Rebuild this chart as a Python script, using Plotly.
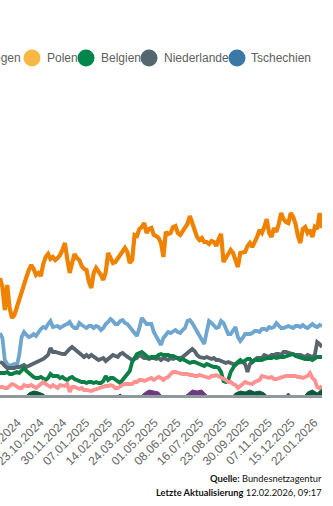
import plotly.graph_objects as go
import pandas as pd

# x categories: 4-day grid for the line series, 8-day grid for the small area series
dates4 = pd.date_range("2024-08-17", periods=135, freq="4D")
dates8 = pd.date_range("2024-08-17", periods=68, freq="8D")

orange = [12.0, 11.1, 8.8, 11.3, 9.0, 8.0, 8.3, 9.1, 10.0, 10.8,
          11.5, 12.1, 12.8, 13.3, 12.9, 12.3, 12.5, 12.2, 13.4, 14.1,
          14.4, 13.9, 14.1, 13.8, 14.0, 14.3, 14.8, 15.5, 13.9, 12.5,
          13.5, 14.4, 14.0, 13.8, 13.2, 12.9, 12.8, 11.6, 11.0, 12.5,
          13.0, 12.7, 12.3, 11.8, 12.6, 14.5, 13.9, 13.5, 13.6, 14.0,
          14.3, 14.6, 15.0, 14.6, 13.5, 13.8, 16.3, 16.2, 16.9, 17.1,
          17.5, 16.5, 16.9, 17.0, 16.3, 16.2, 16.0, 15.5, 14.1, 16.6,
          16.4, 16.5, 17.1, 17.2, 16.5, 16.3, 16.7, 17.0, 17.4, 18.2,
          17.5, 16.7, 16.1, 15.8, 16.0, 15.6, 15.6, 15.4, 15.7, 15.6,
          15.2, 15.9, 16.4, 13.6, 14.0, 14.6, 14.8, 14.5, 13.9, 13.1,
          14.5, 14.6, 14.6, 15.2, 15.5, 15.1, 15.5, 16.1, 16.8, 16.5,
          17.1, 17.9, 16.5, 16.1, 17.0, 16.6, 17.4, 18.5, 17.9, 17.6,
          17.5, 18.5, 18.1, 17.4, 16.2, 15.5, 16.9, 17.1, 16.5, 16.8,
          16.1, 17.1, 16.9, 18.5, 17.0]
light_blue = [6.5, 6.0, 3.8, 3.4, 3.2, 3.3, 3.4, 3.2, 4.3, 6.1,
              6.6, 6.3, 6.1, 6.2, 6.4, 6.2, 6.6, 6.9, 7.1, 7.0,
              7.4, 7.7, 7.1, 7.2, 7.2, 7.0, 7.2, 7.3, 7.4, 7.6,
              7.2, 7.0, 7.0, 7.5, 7.3, 7.1, 7.0, 7.2, 7.2, 7.0,
              7.2, 7.1, 6.8, 7.0, 7.4, 7.6, 7.9, 7.7, 7.4, 7.4,
              7.7, 7.8, 7.5, 7.4, 7.1, 6.9, 6.5, 6.2, 7.0, 8.0,
              7.7, 7.4, 7.4, 7.4, 6.6, 6.1, 5.8, 5.3, 6.0, 6.3,
              6.6, 6.5, 6.6, 6.8, 6.6, 6.5, 6.8, 7.0, 7.7, 7.8,
              7.5, 7.1, 6.6, 6.2, 5.8, 5.4, 6.6, 7.7, 7.5, 7.2,
              7.0, 7.1, 7.7, 7.5, 6.9, 6.4, 6.4, 6.7, 7.1, 6.1,
              5.7, 6.0, 6.4, 6.4, 6.4, 6.5, 6.7, 6.7, 6.6, 6.9,
              6.9, 6.8, 7.1, 7.0, 7.1, 7.5, 7.2, 7.0, 7.0, 7.1,
              7.2, 7.1, 7.0, 7.2, 7.2, 7.1, 7.3, 7.1, 7.0, 7.2,
              7.4, 7.2, 7.1, 7.3, 7.2]
dark_grey = [3.6, 3.5, 3.2, 3.0, 3.0, 3.0, 3.0, 3.1, 3.1, 3.2,
             3.3, 3.1, 3.2, 3.3, 3.4, 3.6, 3.7, 3.8, 3.9, 4.1,
             4.3, 5.0, 4.6, 4.6, 4.5, 4.4, 4.4, 4.4, 4.7, 4.9,
             5.1, 4.9, 4.6, 4.5, 4.3, 4.1, 4.3, 4.1, 4.3, 4.1,
             4.0, 3.8, 3.9, 4.0, 3.7, 3.9, 4.2, 4.3, 4.2, 4.1,
             4.4, 4.5, 4.3, 4.1, 4.0, 3.8, 3.9, 4.0, 4.3, 4.1,
             4.0, 4.0, 3.9, 4.0, 4.0, 3.9, 4.0, 3.8, 4.0, 3.9,
             3.8, 4.0, 3.9, 4.0, 4.0, 4.0, 4.1, 4.3, 4.4, 4.6,
             4.9, 4.7, 4.3, 4.1, 4.0, 4.0, 4.1, 4.0, 3.9, 4.0,
             3.8, 3.8, 3.7, 3.6, 3.5, 3.6, 3.5, 3.4, 3.3, 3.5,
             3.6, 3.6, 3.4, 2.6, 3.4, 3.6, 3.8, 4.0, 4.0, 4.0,
             4.3, 4.2, 4.1, 4.3, 4.3, 4.4, 4.4, 4.3, 4.6, 4.6,
             4.5, 4.4, 4.4, 4.3, 4.3, 4.3, 4.2, 4.1, 4.3, 4.2,
             4.1, 4.3, 5.6, 5.4, 5.1]
green = [2.5, 2.5, 2.5, 2.6, 2.4, 2.4, 2.5, 2.6, 2.5, 2.8,
         3.0, 2.7, 2.5, 2.2, 2.1, 2.0, 2.0, 2.1, 1.9, 1.8,
         2.0, 2.4, 2.2, 2.2, 2.2, 2.0, 2.1, 1.9, 1.8, 2.0,
         2.1, 1.9, 1.8, 1.6, 1.6, 1.6, 1.5, 1.6, 1.6, 1.5,
         1.6, 1.5, 1.5, 1.7, 2.2, 1.8, 2.0, 2.0, 1.8, 1.6,
         1.5, 1.8, 2.1, 2.3, 2.7, 3.6, 4.1, 4.4, 4.5, 4.6,
         4.4, 4.2, 4.0, 4.1, 4.1, 4.1, 4.3, 4.4, 4.3, 4.3,
         4.3, 4.2, 4.2, 4.1, 4.0, 3.8, 3.9, 3.8, 3.6, 3.5,
         3.6, 3.6, 3.5, 3.4, 3.2, 3.2, 3.4, 3.3, 3.1, 3.1,
         3.1, 3.0, 2.6, 1.7, 1.6, 1.8, 2.6, 3.1, 3.4, 3.6,
         3.8, 3.6, 3.8, 3.9, 3.9, 3.6, 3.8, 3.8, 3.8, 3.8,
         3.9, 4.0, 4.0, 4.0, 4.1, 4.0, 4.1, 4.1, 4.1, 4.2,
         4.3, 4.3, 4.4, 4.2, 4.1, 4.0, 4.0, 3.9, 3.9, 3.9,
         3.8, 4.0, 4.1, 4.1, 4.1]
pink = [1.1, 1.1, 1.0, 1.0, 1.2, 1.4, 1.3, 1.1, 1.0, 1.0,
        1.3, 1.2, 1.2, 1.3, 1.2, 1.0, 1.2, 1.4, 1.6, 1.4,
        1.2, 1.1, 1.3, 1.1, 1.0, 1.3, 1.2, 1.2, 1.4, 0.6,
        1.1, 1.1, 1.0, 0.9, 1.0, 0.8, 0.8, 0.7, 0.7, 0.8,
        0.9, 1.0, 1.0, 1.1, 1.2, 1.2, 1.3, 1.2, 1.0, 1.0,
        1.2, 1.3, 1.4, 1.4, 1.4, 1.4, 1.6, 1.6, 1.8, 1.8,
        1.7, 1.8, 1.9, 2.0, 1.8, 2.0, 2.1, 2.0, 1.8, 2.0,
        2.1, 2.4, 2.6, 2.6, 2.5, 2.4, 2.4, 2.4, 2.4, 2.3,
        2.3, 2.2, 2.2, 2.3, 2.2, 2.1, 2.1, 2.0, 2.2, 2.2,
        2.3, 2.2, 2.1, 2.0, 1.8, 1.6, 1.6, 1.4, 1.3, 1.0,
        1.2, 1.4, 1.6, 1.5, 1.4, 1.4, 1.6, 1.7, 1.8, 2.2,
        2.1, 2.0, 2.0, 2.1, 1.9, 1.9, 2.0, 2.1, 2.1, 2.2,
        2.2, 2.2, 2.2, 2.2, 2.1, 2.1, 2.0, 2.1, 2.2, 2.5,
        2.0, 1.8, 1.1, 1.0, 1.2]
purple = [0, 0, 0, 0, 0, 0, 0, 0, 0, 0,
          0, 0, 0, 0, 0, 0, 0, 0, 0, 0,
          0, 0, 0, 0, 0, 0, 0, 0, 0, 0,
          0.5, 0.8, 0.7, 0.6, 0, 0, 0, 0, 0, 0.4,
          0.8, 0.7, 0.8, 0.3, 0, 0, 0, 0, 0, 0,
          0, 0, 0, 0, 0, 0, 0, 0, 0, 0,
          0.5, 0, 0, 0, 0, 0, 0, 0]
dark_green = [0, 0, 0, 0, 0, 0, 0.5, 0.7, 0.6, 0.4,
              0, 0, 0, 0, 0, 0, 0, 0, 0, 0,
              0, 0, 0, 0, 0, 0.4, 0, 0, 0, 0,
              0, 0, 0, 0, 0, 0, 0, 0, 0, 0,
              0, 0, 0, 0, 0, 0, 0, 0, 0, 0.5,
              0.7, 0.6, 0.8, 0.6, 0.7, 0.5, 0, 0, 0, 0,
              0, 0, 0, 0, 0.6, 0.8, 0.5, 0.9]

legend_names = ["Polen", "Belgien", "Niederlande", "Tschechien"]
legend_colors = ["#F7B944", "#00854A", "#546670", "#3A78A8"]
legend_text_px = [45, 99, 162, 249]
legend_dot_px = [32, 86, 149, 237]

tick_start = "2024-09-15"
tick_step_days = 38

W, H = 333, 506
ML, MR, MT, MB = 0, 11, 98, 111
PW = W - ML - MR
PH = H - MT - MB

fig = go.Figure()

lines = [
    ("Frankreich", orange, "#EF8200", 4.2),
    ("Tschechien", light_blue, "#6FA6CF", 3.8),
    ("Niederlande", dark_grey, "#58656E", 3.8),
    ("Belgien", green, "#0B7F46", 3.8),
    ("Schweiz", pink, "#FF9191", 3.8),
]
for name, vals, col, lw in lines:
    fig.add_trace(go.Scatter(x=dates4, y=vals, name=name, mode="lines",
                             line=dict(color=col, width=lw), showlegend=False))
for name, vals, col in [("Schweden", purple, "#6B3A80"), ("Luxemburg", dark_green, "#0C5A3C")]:
    fig.add_trace(go.Scatter(x=dates8, y=vals, name=name, mode="lines",
                             line=dict(color=col, width=1), fill="tozeroy",
                             fillcolor=col, showlegend=False))


def px_x(p):
    return (p - ML) / PW


def px_y(p):
    return (H - MB - p) / PH


legend_font = dict(family="Liberation Sans, Arial", size=12, color="#606060")
annotations = []
shapes = []
ly = px_y(58)
annotations.append(dict(text="Norwegen", x=px_x(23), y=ly, xref="paper", yref="paper",
                        xanchor="right", yanchor="middle", showarrow=False, font=legend_font))
for name, col, tx, dx in zip(legend_names, legend_colors, legend_text_px, legend_dot_px):
    annotations.append(dict(text=name, x=px_x(tx), y=ly, xref="paper", yref="paper",
                            xanchor="left", yanchor="middle", showarrow=False, font=legend_font))
    shapes.append(dict(type="circle", xref="paper", yref="paper",
                       xsizemode="pixel", ysizemode="pixel",
                       xanchor=px_x(dx), yanchor=ly, x0=-8.5, x1=8.5, y0=-8.5, y1=8.5,
                       fillcolor=col, line=dict(width=0)))

credit_font = dict(family="Lato, sans-serif", size=9.3, color="#111111")
annotations.append(dict(text="<b>Quelle:</b> Bundesnetzagentur", x=px_x(324), y=px_y(478),
                        xref="paper", yref="paper", xanchor="right", yanchor="middle",
                        showarrow=False, font=credit_font))
annotations.append(dict(text="<b>Letzte Aktualisierung</b> 12.02.2026, 09:17", x=px_x(324), y=px_y(492),
                        xref="paper", yref="paper", xanchor="right", yanchor="middle",
                        showarrow=False, font=credit_font))

fig.update_layout(
    width=W, height=H,
    margin=dict(l=ML, r=MR, t=MT, b=MB, autoexpand=False),
    paper_bgcolor="white", plot_bgcolor="white",
    annotations=annotations, shapes=shapes,
    showlegend=False,
    xaxis=dict(type="date", range=[dates4[0], dates4[-1]],
               tick0=tick_start, dtick=tick_step_days * 86400000,
               tickformat="%d.%m.%Y", tickangle=-45,
               tickfont=dict(family="Liberation Sans, Arial", size=12, color="#666666"),
               ticklabeloverflow="allow",
               showgrid=False, zeroline=False, showline=True,
               linecolor="#8E989D", linewidth=3,
               ticks="outside", ticklen=13, tickcolor="rgba(0,0,0,0)",
               automargin=False),
    yaxis=dict(range=[0.3, 30.0], showgrid=False, zeroline=False,
               showticklabels=False, showline=False, automargin=False),
)

fig.write_html("out.html")
